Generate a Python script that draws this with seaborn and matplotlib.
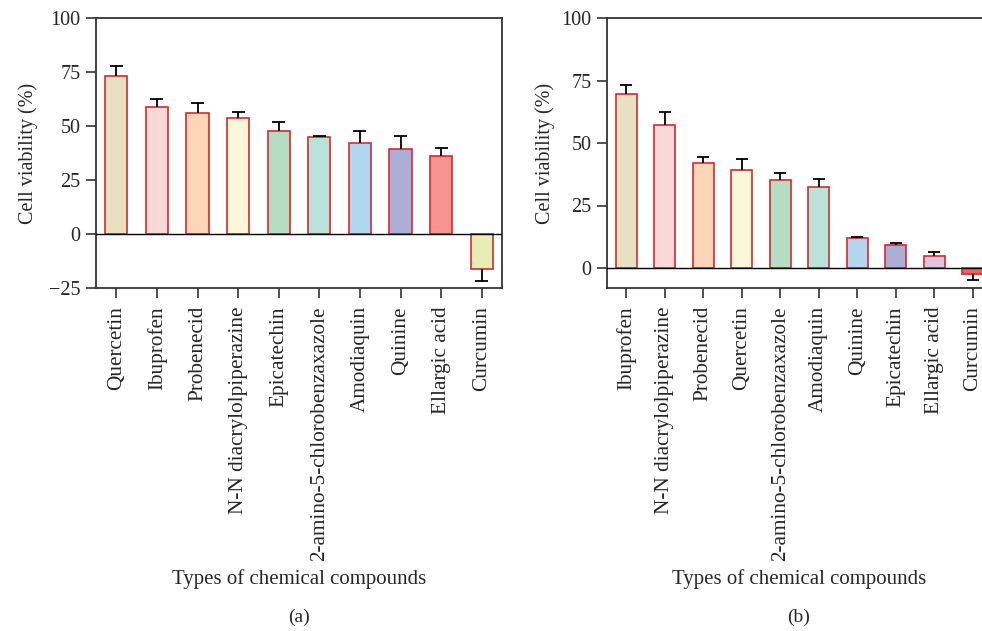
import matplotlib
matplotlib.use("Agg")
import matplotlib.pyplot as plt
import seaborn as sns
import numpy as np
import pandas as pd

# Panel (a)
compounds_a = ["Quercetin", "Ibuprofen", "Probenecid", "N-N diacrylolpiperazine",
               "Epicatechin", "2-amino-5-chlorobenzaxazole", "Amodiaquin",
               "Quinine", "Ellargic acid", "Curcumin"]
viability_a = [73.3, 58.7, 55.9, 53.7, 47.9, 45.0, 41.9, 39.4, 36.0, -16.3]
error_a = [4.4, 4.0, 4.7, 2.7, 3.9, 0.6, 6.0, 5.9, 4.0, 5.4]
colors_a = ["#E8E1C1", "#F9D8D7", "#FCD6B6", "#FAF8D8", "#B4DDC1",
            "#BAE1DA", "#B1D6F0", "#ABAFD6", "#F4958F", "#E6EEB6"]

# Panel (b)
compounds_b = ["Ibuprofen", "N-N diacrylolpiperazine", "Probenecid", "Quercetin",
               "2-amino-5-chlorobenzaxazole", "Amodiaquin", "Quinine",
               "Epicatechin", "Ellargic acid", "Curcumin"]
viability_b = [69.5, 57.2, 42.1, 39.2, 35.1, 32.3, 12.2, 9.2, 4.9, -2.3]
error_b = [3.7, 5.1, 2.5, 4.5, 3.0, 3.2, 0.4, 1.0, 1.6, 2.6]
colors_b = ["#E8E1C1", "#F9D8D7", "#FCD6B6", "#FAF8D8", "#B4DDC1",
            "#BAE1DA", "#B1D6F0", "#ABAFD6", "#E3C2DE", "#F0605E"]

EDGE = "#D42A30"
SPINE = "#333333"


def draw_panel(ax, names, values, errors, colors, ylim, yticks, ylabelpad):
    df = pd.DataFrame({"compound": names, "viability": values})
    sns.barplot(data=df, x="compound", y="viability", hue="compound",
                palette=colors, legend=False, width=0.55, saturation=1,
                edgecolor=EDGE, linewidth=1.2, ax=ax)

    # one-sided error bars (away from zero)
    x = np.arange(len(values))
    vals = np.array(values)
    tips = vals + np.sign(vals) * np.array(errors)
    ax.vlines(x, vals, tips, color="black", linewidth=1.3, zorder=1)
    ax.hlines(tips, x - 0.16, x + 0.16, color="black", linewidth=1.3, zorder=1)

    ax.axhline(0, color="black", linewidth=1.0, zorder=3)
    ax.set_xlim(-0.5, 9.5)
    ax.set_ylim(*ylim)
    ax.set_yticks(yticks)
    ax.set_yticklabels([str(t).replace("-", "\u2212") for t in yticks])

    ax.set_ylabel("Cell viability (%)", fontsize=14.5, labelpad=ylabelpad)
    ax.set_xlabel("Types of chemical compounds", fontsize=15, labelpad=6)
    ax.tick_params(axis="x", labelrotation=90, labelsize=15.3, length=7,
                   width=1.2, pad=6, color=SPINE)
    ax.tick_params(axis="y", labelsize=14.5, length=7, width=1.2, pad=4,
                   color=SPINE)
    for s in ax.spines.values():
        s.set_visible(True)
        s.set_color(SPINE)
        s.set_linewidth(1.3)


sns.set_style("ticks")
plt.rcParams["font.family"] = ["Liberation Serif", "DejaVu Serif"]

fig = plt.figure(figsize=(9.82, 6.31), dpi=100)
W, H = 982.0, 631.0
ax_a = fig.add_axes([96 / W, 1 - 288 / H, (502 - 96) / W, (288 - 18) / H])
ax_b = fig.add_axes([607 / W, 1 - 288 / H, (992 - 607) / W, (288 - 18) / H])

draw_panel(ax_a, compounds_a, viability_a, error_a, colors_a,
           (-25, 100), [-25, 0, 25, 50, 75, 100], 8)
draw_panel(ax_b, compounds_b, viability_b, error_b, colors_b,
           (-8, 100), [0, 25, 50, 75, 100], 5)

fig.text(299 / W, 1 - 617 / H, "(a)", ha="center", va="center", fontsize=14)
fig.text(799 / W, 1 - 617 / H, "(b)", ha="center", va="center", fontsize=14)

fig.savefig("out.png", dpi=100)
